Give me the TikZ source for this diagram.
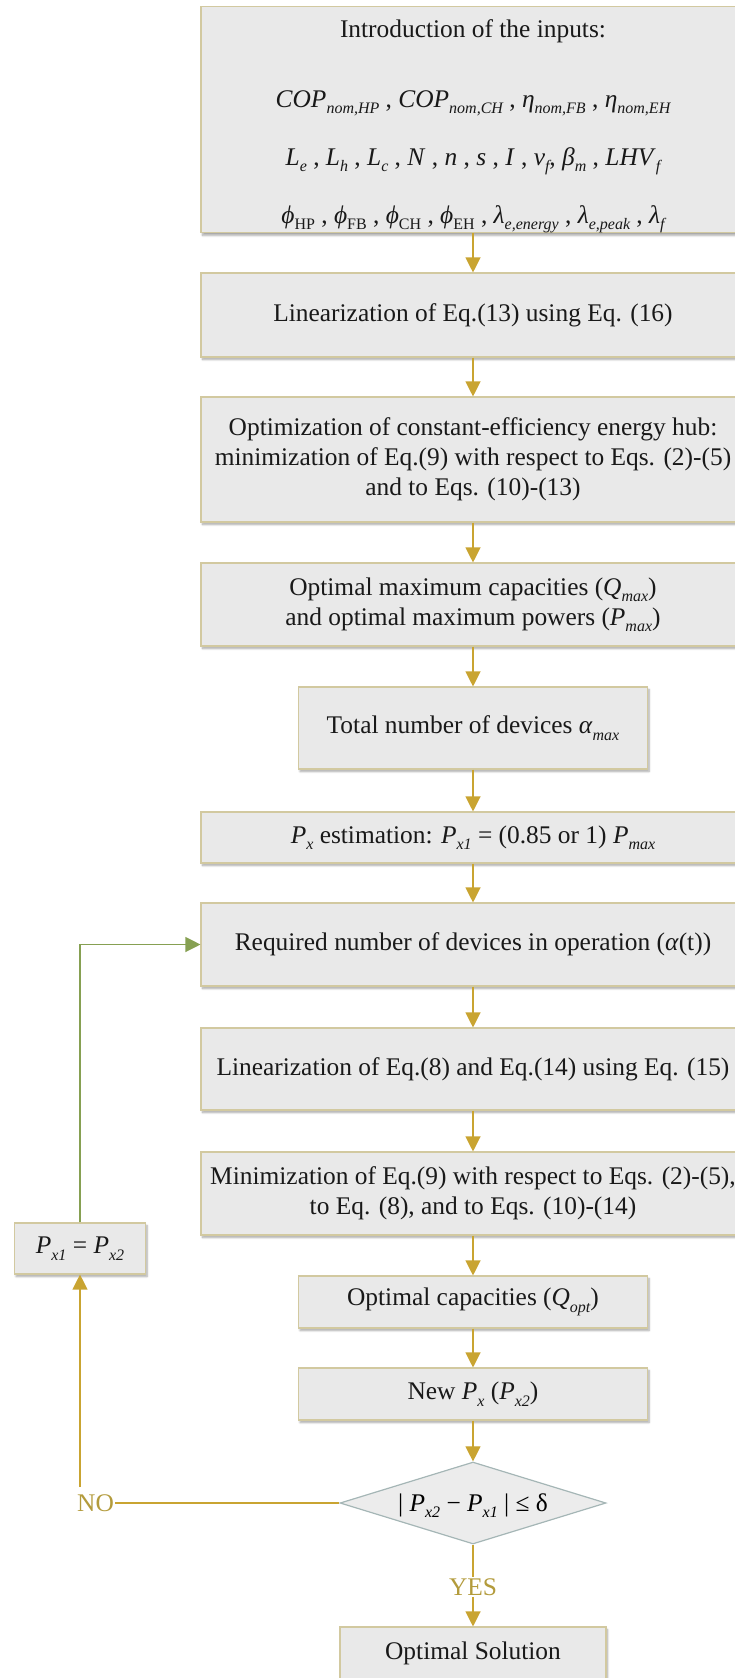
\documentclass[tikz,border=0pt]{standalone}
\usepackage{fontspec}
\setmainfont{Liberation Serif}
\usetikzlibrary{arrows.meta,shapes.geometric,shadows.blur}

\definecolor{boxfill}{HTML}{E9E9E9}
\definecolor{boxedge}{HTML}{D2C9A0}
\definecolor{gold}{HTML}{C9A431}
\definecolor{goldtext}{HTML}{B39B3C}
\definecolor{loopgreen}{HTML}{86A052}
\definecolor{diaedge}{HTML}{A5B6B6}
\definecolor{diafill}{HTML}{ECECEC}

% italic variable and lowered subscripts
\newcommand\vr[1]{\textit{#1}}
\newcommand\lo[1]{\raisebox{-0.25em}{\fontsize{16}{16}\selectfont\itshape #1}}
\newcommand\lou[1]{\raisebox{-0.25em}{\fontsize{16}{16}\selectfont #1}}

\tikzset{
  stepbox/.style={draw=boxedge, line width=1.1pt, fill=boxfill, inner sep=0pt,
    align=center, text=black!90,
    blur shadow={shadow xshift=1.5pt, shadow yshift=-2.5pt, shadow blur radius=2pt,
      shadow blur steps=6, shadow opacity=35}},
  widebox/.style={stepbox, minimum width=544pt},
  narrowbox/.style={stepbox, minimum width=349pt},
  flow/.style={draw=gold, line width=1.15pt, -{Triangle[width=15pt,length=15pt]}},
  plainflow/.style={draw=gold, line width=1.15pt},
  loopflow/.style={draw=loopgreen, line width=1.15pt, -{Triangle[width=15pt,length=15pt]}},
  choice/.style={diamond, draw=diaedge, fill=diafill, line width=1.2pt, inner sep=0pt,
    minimum width=266pt, minimum height=82pt},
  answer/.style={text=goldtext, inner sep=1pt},
}

\begin{document}
\begin{tikzpicture}[x=1pt, y=-1pt, font=\fontsize{25.4}{30}\selectfont]
\useasboundingbox (0,0) rectangle (735,1678);
\clip (0,0) rectangle (735,1678);

% main column
\node[widebox, minimum height=225pt] (in1) at (473,119.5) {%
  \rule{0pt}{31pt}Introduction of the inputs:\\[40pt]
  \vr{COP}\lo{nom,HP} , \vr{COP}\lo{nom,CH} , \vr{η}\lo{nom,FB} , \vr{η}\lo{nom,EH}\\[28pt]
  \vr{L}\lo{e} , \vr{L}\lo{h} , \vr{L}\lo{c} , \vr{N} , \vr{n} , \vr{s} , \vr{I} , \vr{v}\lo{f}, \vr{β}\lo{m} , \vr{LHV}\lo{f}\\[28pt]
  \vr{ϕ}\lou{HP} , \vr{ϕ}\lou{FB} , \vr{ϕ}\lou{CH} , \vr{ϕ}\lou{EH} , \vr{λ}\lo{e,energy} , \vr{λ}\lo{e,peak} , \vr{λ}\lo{f}};
\node[widebox, minimum height=84pt] (lin1) at (473,315) {Linearization of Eq.(13) using Eq. (16)};
\node[widebox, minimum height=125pt] (opt) at (473,459.5) {Optimization of constant-efficiency energy hub:\\
  minimization of Eq.(9) with respect to Eqs. (2)-(5)\\ and to Eqs. (10)-(13)};
\node[widebox, minimum height=83pt] (omax) at (473,604.5) {Optimal maximum capacities (\vr{Q}\lo{max})\\
  and optimal maximum powers (\vr{P}\lo{max})};
\node[narrowbox, minimum height=82pt] (tot) at (473,728) {Total number of devices \vr{α}\lo{max}};
\node[widebox, minimum height=51pt] (pxe) at (473,837.5) {\vr{P}\lo{x} estimation: \vr{P}\lo{x1} = (0.85 or 1) \vr{P}\lo{max}};
\node[widebox, minimum height=83pt] (req) at (473,944.5) {Required number of devices in operation (\vr{α}(t))};
\node[widebox, minimum height=82pt] (lin2) at (473,1069) {Linearization of Eq.(8) and Eq.(14) using Eq. (15)};
\node[widebox, minimum height=83pt] (minz) at (473,1193.5) {Minimization of Eq.(9) with respect to Eqs. (2)-(5),\\
  to Eq. (8), and to Eqs. (10)-(14)};
\node[narrowbox, minimum height=52pt] (qopt) at (473,1302) {Optimal capacities (\vr{Q}\lo{opt})};
\node[narrowbox, minimum height=52pt] (newp) at (473,1394) {New \vr{P}\lo{x} (\vr{P}\lo{x2})};
\node[choice] (dec) at (473,1503) {\smash{\makebox[0pt]{\raisebox{-0.33em}{| \vr{P}\lo{x2} − \vr{P}\lo{x1} | ≤ δ}}}};
\node[answer] (yes) at (473,1587) {YES};
\node[stepbox, minimum width=266pt, minimum height=52pt] (sol) at (473,1653) {Optimal Solution};

% loop-back branch
\node[stepbox, minimum width=131pt, minimum height=51pt] (pxeq) at (80,1248.5) {\vr{P}\lo{x1} = \vr{P}\lo{x2}};
\node[answer, anchor=west] (no) at (76,1503) {NO};
\coordinate (nolift) at (80,1487);

% connectors
\draw[flow] (in1.south) -- (lin1.north);
\draw[flow] (lin1.south) -- (opt.north);
\draw[flow] (opt.south) -- (omax.north);
\draw[flow] (omax.south) -- (tot.north);
\draw[flow] (tot.south) -- (pxe.north);
\draw[flow] (pxe.south) -- (req.north);
\draw[flow] (req.south) -- (lin2.north);
\draw[flow] (lin2.south) -- (minz.north);
\draw[flow] (minz.south) -- (qopt.north);
\draw[flow] (qopt.south) -- (newp.north);
\draw[flow] (newp.south) -- (dec.north);
\draw[plainflow] (dec.south) -- (yes.north);
\draw[flow] (yes.south) -- (sol.north);
\draw[plainflow] (dec.west) -- (no.east);
\draw[flow] (nolift) -- (nolift |- pxeq.south);
\draw[loopflow] (pxeq.north) |- (req.west);
\end{tikzpicture}
\end{document}
